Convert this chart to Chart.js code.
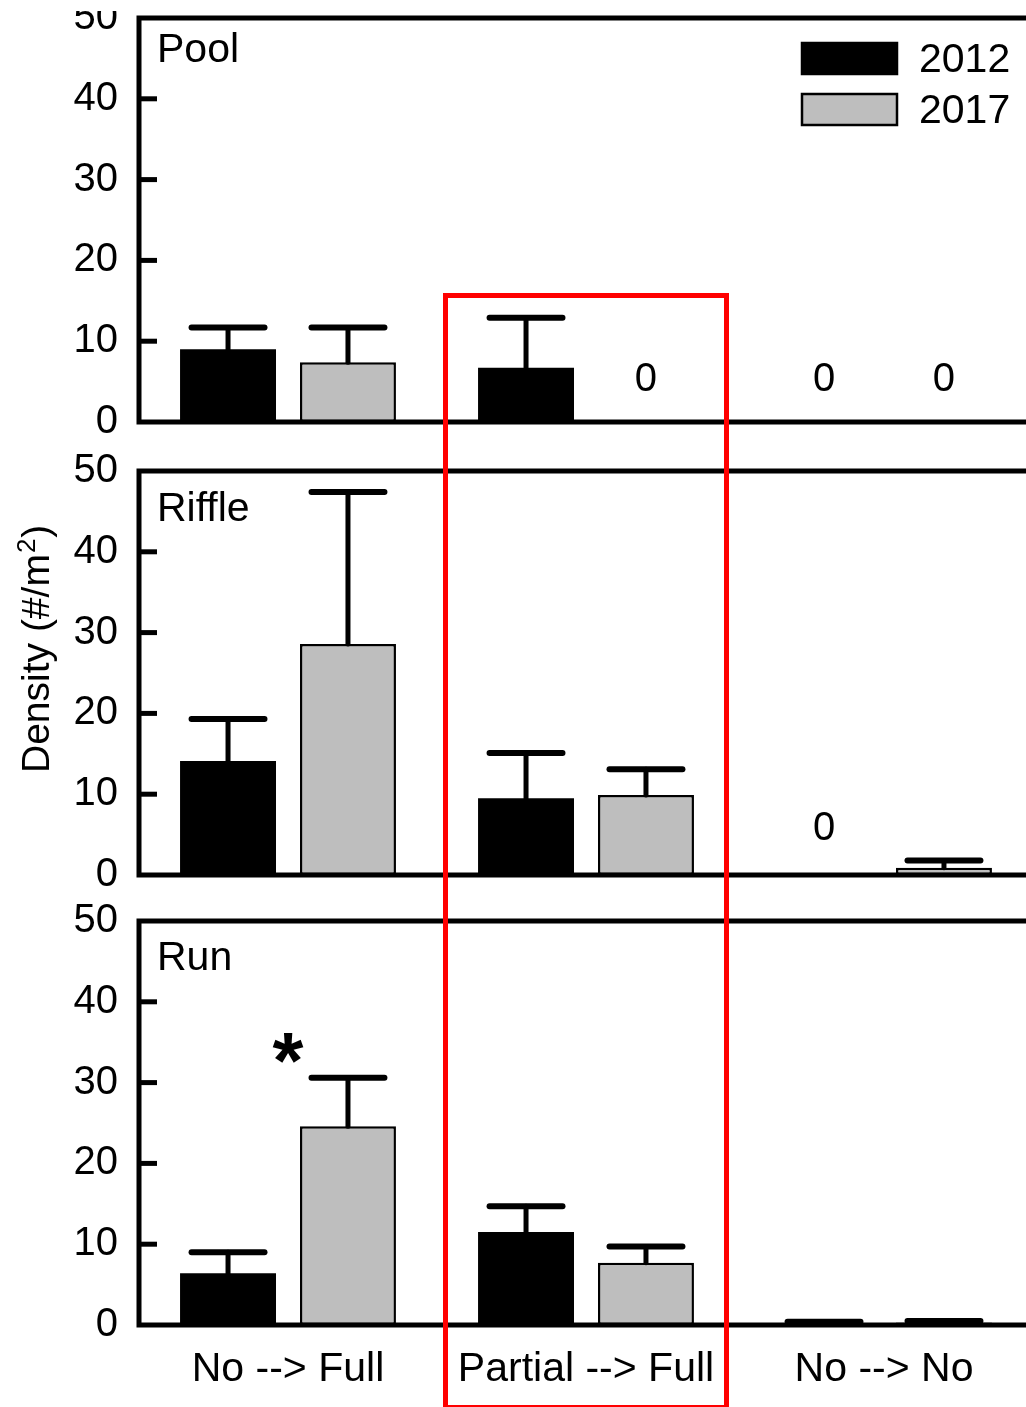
<!DOCTYPE html>
<html>
<head>
<meta charset="utf-8">
<script src="https://cdn.jsdelivr.net/npm/chart.js@4.4.1/dist/chart.umd.min.js"></script>
<style>
  html, body { margin: 0; padding: 0; background: #fff; overflow: hidden; }
  #wrap { position: relative; width: 1026px; height: 1407px; overflow: hidden; }
  canvas { position: absolute; left: 0; }
  #hl { position: absolute; box-sizing: border-box; border: 5px solid #ff0000; pointer-events: none; }
  #cut { position: absolute; left: 0; top: 0; width: 134px; height: 11px; background: #fff; }
</style>
</head>
<body>
<div id="wrap">
  <canvas id="c1" width="1040" height="440" style="top:0"></canvas>
  <canvas id="c2" width="1040" height="460" style="top:440px"></canvas>
  <canvas id="c3" width="1040" height="507" style="top:900px"></canvas>
  <div id="cut"></div>
  <div id="hl"></div>
</div>
<script>
var categories = ['No --> Full', 'Partial --> Full', 'No --> No'];
var seriesLabels = ['2012', '2017'];
var panelNames = ['Pool', 'Riffle', 'Run'];
var yTicks = [0, 10, 20, 30, 40, 50];

// means and upper error (null = no error bar)
var pool2012 = [9.0, 6.7, 0];
var pool2012Err = [2.7, 6.2, null];
var pool2017 = [7.4, 0, 0];
var pool2017Err = [4.3, null, null];

var riffle2012 = [14.1, 9.5, 0];
var riffle2012Err = [5.2, 5.6, null];
var riffle2017 = [28.6, 9.9, 0.9];
var riffle2017Err = [18.8, 3.2, 0.9];

var run2012 = [6.4, 11.5, 0.15];
var run2012Err = [2.6, 3.2, 0.25];
var run2017 = [24.6, 7.7, 0.3];
var run2017Err = [6.0, 2.0, 0.2];

// significance marks: panel index, category index, y value
var marks = [{ panel: 2, group: 0, value: 34.3, text: '*' }];

var FONT = '"Liberation Sans", Arial, sans-serif';
Chart.defaults.font.family = FONT;
Chart.defaults.color = '#000';

var deco = {
    id: 'deco',
    afterDatasetsDraw: function(chart, args, opts) {
        var ctx = chart.ctx;
        var a = chart.chartArea;
        var ys = chart.scales.y;
        var xs = chart.scales.x;
        ctx.save();
        ctx.strokeStyle = '#000';
        ctx.fillStyle = '#000';
        ctx.lineCap = 'round';

        // error bars / zero labels
        chart.data.datasets.forEach(function(ds, i) {
            chart.getDatasetMeta(i).data.forEach(function(bar, j) {
                var err = ds.errors[j];
                if (err == null) {
                    if (ds.data[j] === 0) {
                        ctx.font = '40px ' + FONT;
                        ctx.textAlign = 'center';
                        ctx.textBaseline = 'middle';
                        ctx.fillText('0', bar.x, ys.getPixelForValue(0) - opts.zeroOffset);
                    }
                    return;
                }
                var top = ys.getPixelForValue(ds.data[j] + err);
                var half = bar.width * 0.38;
                ctx.lineWidth = 5;
                ctx.beginPath();
                ctx.moveTo(bar.x, bar.y);
                ctx.lineTo(bar.x, top);
                ctx.stroke();
                ctx.lineWidth = 6;
                ctx.beginPath();
                ctx.moveTo(bar.x - half, top);
                ctx.lineTo(bar.x + half, top);
                ctx.stroke();
            });
        });

        // frame
        ctx.lineCap = 'butt';
        ctx.lineWidth = 5;
        ctx.strokeRect(a.left, a.top, a.right - a.left, a.bottom - a.top);

        // inside ticks
        yTicks.slice(1, -1).forEach(function(v) {
            var py = ys.getPixelForValue(v);
            ctx.beginPath();
            ctx.moveTo(a.left, py);
            ctx.lineTo(a.left + 18, py);
            ctx.stroke();
        });

        // panel name
        ctx.font = '41px ' + FONT;
        ctx.textAlign = 'left';
        ctx.textBaseline = 'alphabetic';
        ctx.fillText(opts.name, a.left + 18, a.top + opts.nameOffset);

        // legend
        if (opts.legend) {
            chart.data.datasets.forEach(function(ds, i) {
                var bx = a.right - 231, by = a.top + 25 + i * 51;
                ctx.fillStyle = ds.backgroundColor;
                ctx.fillRect(bx, by, 95, 31);
                ctx.lineWidth = 2.5;
                ctx.strokeRect(bx, by, 95, 31);
                ctx.fillStyle = '#000';
                ctx.font = '41px ' + FONT;
                ctx.textBaseline = 'middle';
                ctx.fillText(ds.label, bx + 117, by + 18);
            });
        }

        // y axis title with superscript
        if (opts.yTitle) {
            ctx.save();
            ctx.translate(49, a.bottom - 102);
            ctx.rotate(-Math.PI / 2);
            ctx.textAlign = 'left';
            ctx.textBaseline = 'alphabetic';
            var t = 0;
            ctx.font = '39px ' + FONT;
            ctx.fillText('Density (#/m', t, 0);
            t += ctx.measureText('Density (#/m').width + 1;
            ctx.font = '26px ' + FONT;
            ctx.fillText('2', t, -14);
            t += ctx.measureText('2').width + 1;
            ctx.font = '39px ' + FONT;
            ctx.fillText(')', t, 0);
            ctx.restore();
        }

        // significance marks
        marks.forEach(function(m) {
            if (m.panel !== opts.index) return;
            ctx.font = 'bold 100px ' + FONT;
            var w = ctx.measureText(m.text);
            var size = 100 * 31 / (w.actualBoundingBoxRight + w.actualBoundingBoxLeft);
            ctx.font = 'bold ' + size + 'px ' + FONT;
            ctx.textAlign = 'center';
            ctx.textBaseline = 'alphabetic';
            w = ctx.measureText(m.text);
            var cx = xs.getPixelForValue(m.group);
            var cy = ys.getPixelForValue(m.value);
            ctx.fillText(m.text, cx, cy + (w.actualBoundingBoxAscent - w.actualBoundingBoxDescent) / 2);
        });

        ctx.restore();
    }
};

function makePanel(id, index, d2012, e2012, d2017, e2017, cfg) {
    return new Chart(document.getElementById(id), {
        type: 'bar',
        data: {
            labels: categories,
            datasets: [{
                label: seriesLabels[0],
                data: d2012,
                errors: e2012,
                backgroundColor: '#000000',
                borderColor: '#000000',
                borderWidth: 0
            }, {
                label: seriesLabels[1],
                data: d2017,
                errors: e2017,
                backgroundColor: '#bebebe',
                borderColor: '#000000',
                borderWidth: 2.5,
                borderSkipped: false
            }]
        },
        options: {
            responsive: false,
            animation: false,
            devicePixelRatio: 1,
            layout: { padding: { top: cfg.padTop, right: 7, left: 0, bottom: 0 } },
            datasets: { bar: { categoryPercentage: 0.805, barPercentage: 0.8 } },
            plugins: {
                legend: { display: false },
                tooltip: { enabled: false },
                deco: {
                    name: panelNames[index], index: index, legend: cfg.legend,
                    nameOffset: cfg.nameOffset, zeroOffset: cfg.zeroOffset, yTitle: cfg.yTitle
                }
            },
            scales: {
                x: {
                    grid: { display: false, drawTicks: false },
                    border: { display: false },
                    ticks: { display: cfg.xLabels, font: { size: 41 }, padding: 20, maxRotation: 0, autoSkip: false },
                    afterFit: function(s) {
                        s.height = cfg.xHeight;
                        s.paddingLeft = 0;
                        s.paddingRight = 0;
                    }
                },
                y: {
                    min: 0,
                    max: 50,
                    grid: { display: false, drawTicks: false },
                    border: { display: false },
                    ticks: { stepSize: 10, font: { size: 40 }, padding: 21 },
                    afterFit: function(s) {
                        s.width = 139;
                        s.paddingTop = 0;
                        s.paddingBottom = 0;
                    }
                }
            }
        },
        plugins: [deco]
    });
}

var charts = [
    makePanel('c1', 0, pool2012, pool2012Err, pool2017, pool2017Err,
        { padTop: 18, xHeight: 18, xLabels: false, yTitle: false, legend: true, nameOffset: 44, zeroOffset: 42 }),
    makePanel('c2', 1, riffle2012, riffle2012Err, riffle2017, riffle2017Err,
        { padTop: 31, xHeight: 25, xLabels: false, yTitle: true, legend: false, nameOffset: 50, zeroOffset: 46 }),
    makePanel('c3', 2, run2012, run2012Err, run2017, run2017Err,
        { padTop: 21, xHeight: 82, xLabels: true, yTitle: false, legend: false, nameOffset: 49, zeroOffset: 46 })
];

// red box around the middle group, from the top panel down past the labels
var highlightGroup = 1;
var highlightTopValue = 15.65;
(function() {
    var xs = charts[2].scales.x;
    var catW = (xs.right - xs.left) / categories.length;
    var cx = xs.getPixelForValue(highlightGroup);
    var half = catW * 0.471;
    var top = charts[0].scales.y.getPixelForValue(highlightTopValue);
    var hl = document.getElementById('hl');
    hl.style.left = (cx - half - 2.5) + 'px';
    hl.style.width = (2 * half + 5) + 'px';
    hl.style.top = (top - 2.5) + 'px';
    hl.style.height = (1410 - top + 2.5) + 'px';
})();
</script>
</body>
</html>
